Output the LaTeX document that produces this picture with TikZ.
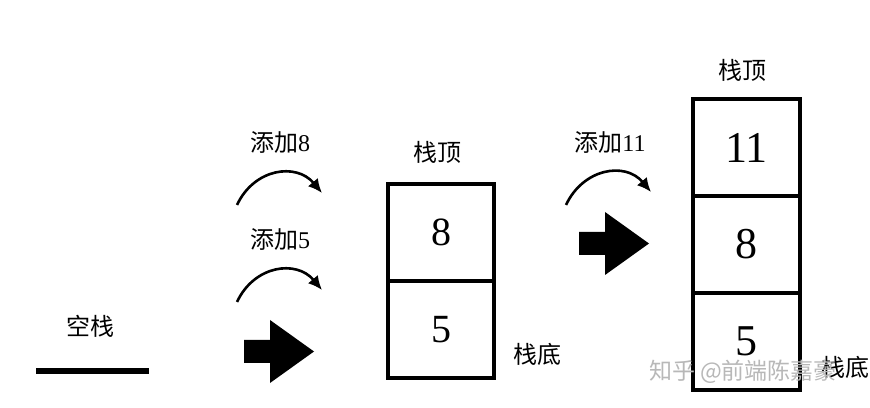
\documentclass[tikz,border=0pt]{standalone}
\usepackage{fontspec}
\setmainfont{Liberation Serif}
\newfontfamily\cjk{Noto Sans CJK SC}
\usetikzlibrary{arrows.meta,positioning}
\tikzset{
  stk/cell/.style={
    draw=black,
    line width=4pt,
    outer sep=0pt,
    fill=white,
    minimum width=106pt,
    minimum height=97pt,
    inner sep=0pt,
    font=\fontsize{40}{42}\selectfont
  },
  stk/label/.style={font=\cjk\fontsize{24}{26}\selectfont, inner sep=0pt},
  stk/arc/.style={-{Latex[length=14pt,width=13pt]}, line width=2.6pt, draw=black},
  stk/push/.pic={
    \fill[black] (-35,-11.5) -- (-9,-11.5) -- (-9,-31.5) -- (35,0)
      -- (-9,31.5) -- (-9,11.5) -- (-35,11.5) -- cycle;
  },
  stk/mark/.style={font=\cjk\fontsize{23}{25}\selectfont, text=black!28, inner sep=0pt}
}

\begin{document}
\begin{tikzpicture}[x=1pt,y=1pt]
  \useasboundingbox (0,0) rectangle (870,407);

  % empty stack
  \node[stk/label] (empty) at (90,81) {空栈};
  \coordinate (base0l) at (36,36);
  \coordinate (base0r) at (149,36);
  \draw[line width=6pt] (base0l) -- (base0r);

  % push 5 and 8
  \node[stk/label] (add8) at (280,264) {添加\rmfamily 8};
  \coordinate (arc8s) at (237,202);
  \coordinate (arc8e) at (322,214);
  \draw[stk/arc] (arc8s) to[out=65,in=130,looseness=1.2] (arc8e);
  \node[stk/label] (add5) at (280,167) {添加\rmfamily 5};
  \coordinate (arc5s) at (237,105);
  \coordinate (arc5e) at (322,117);
  \draw[stk/arc] (arc5s) to[out=65,in=130,looseness=1.2] (arc5e);
  \pic (push1) at (279,55.5) {stk/push};

  % stack with two items
  \node[stk/cell] (s1top) at (441,174.5) {8};
  \node[stk/cell,below=0pt of s1top] (s1bot) {5};
  \node[stk/label] (top1) at (437,255) {栈顶};
  \node[stk/label] (bot1) at (537,53) {栈底};

  % push 11
  \node[stk/label] (add11) at (610,264) {添加\rmfamily 11};
  \coordinate (arc11s) at (566,202);
  \coordinate (arc11e) at (651,215);
  \draw[stk/arc] (arc11s) to[out=65,in=130,looseness=1.2] (arc11e);
  \pic (push2) at (614,163.5) {stk/push};

  % stack with three items
  \node[stk/cell,minimum width=107pt,font=\fontsize{44}{46}\selectfont] (s2top) at (746.5,259.5) {11};
  \node[stk/cell,minimum width=107pt,font=\fontsize{44}{46}\selectfont,below=0pt of s2top] (s2mid) {8};
  \node[stk/cell,minimum width=107pt,font=\fontsize{44}{46}\selectfont,below=0pt of s2mid] (s2bot) {5};
  \node[stk/label] (top2) at (742,337) {栈顶};
  \node[stk/label] (bot2) at (845,40) {栈底};

  \node[stk/mark] (wmark) at (743,35) {知乎 @前端陈嘉豪};
\end{tikzpicture}
\end{document}
